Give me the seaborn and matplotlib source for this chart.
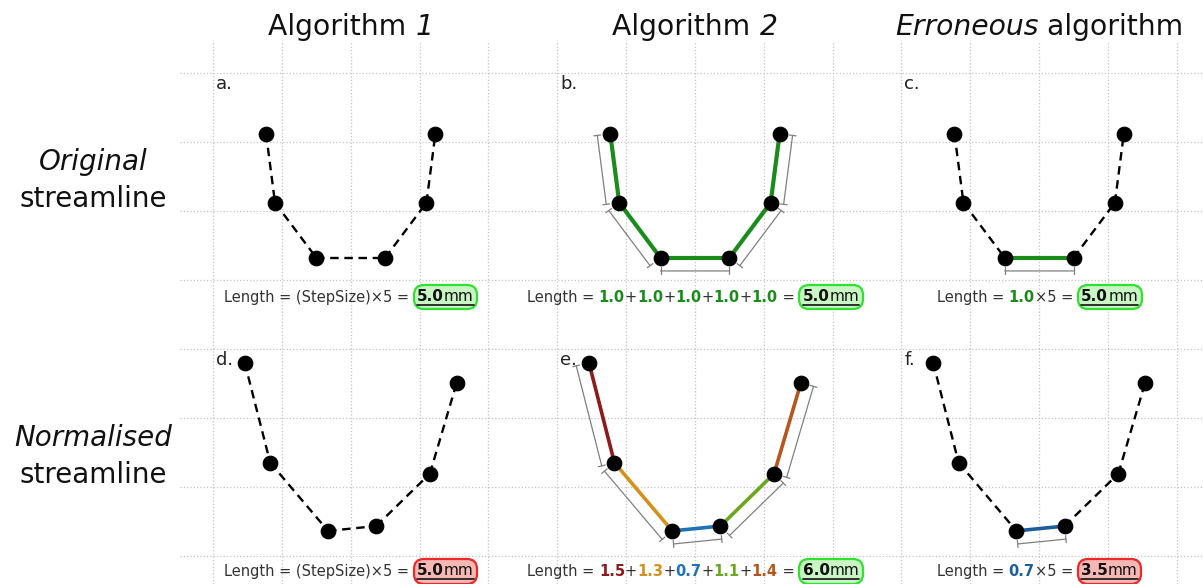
import numpy as np
import matplotlib
matplotlib.use("Agg")
import matplotlib.pyplot as plt
import seaborn as sns
from matplotlib.lines import Line2D
from matplotlib.offsetbox import (TextArea, HPacker, VPacker, PaddedBox,
                                  DrawingArea, AnnotationBbox)

# streamline points in mm, x relative to panel centre, y above the row's base line
orig_x = [-1.23, -1.10, -0.50, 0.50, 1.10, 1.23]
orig_y = [2.12, 1.12, 0.32, 0.32, 1.12, 2.12]
norm_x = [-1.54, -1.17, -0.33, 0.37, 1.15, 1.54]
norm_y = [2.80, 1.35, 0.36, 0.43, 1.19, 2.51]

# (text, italic) pieces for each column title
col_titles = [[("Algorithm ", False), ("1", True)],
              [("Algorithm ", False), ("2", True)],
              [("Erroneous", True), (" algorithm", False)]]
row_names = [("Original", "streamline"), ("Normalised", "streamline")]
panel_letters = [["a.", "b.", "c."], ["d.", "e.", "f."]]

orig_steps = ["1.0", "1.0", "1.0", "1.0", "1.0"]
norm_steps = ["1.5", "1.3", "0.7", "1.1", "1.4"]
green = "#1b8c1b"
orig_colors = [green] * 5
norm_colors = ["#8e1b1b", "#d4921c", "#1f72b8", "#6aa820", "#b5561c"]
err_norm_color = "#1c5d9c"

totals = {"a": "5.0", "b": "5.0", "c": "5.0", "d": "5.0", "e": "6.0", "f": "3.5"}
correct = {"a": True, "b": True, "c": True, "d": False, "e": True, "f": False}

col_centres = [2, 7, 12]
row_bases = [-3, -7]
label_y = [-3.25, -7.23]

sns.set_style("whitegrid", {"grid.linestyle": ":", "grid.color": "#c4c4c4"})
plt.rcParams["font.family"] = ["DejaVu Sans"]

fig = plt.figure(figsize=(12.03, 5.84), dpi=100)
renderer = fig.canvas.get_renderer()
ax = fig.add_axes([180 / 1203, 0, 1 - 180 / 1203, 542 / 584])
ax.set_xlim(-0.48, 14.38)
ax.set_ylim(-7.41, 0.45)
ax.set_xticks(range(0, 15))
ax.set_yticks(range(-7, 1))
ax.set_xticklabels([])
ax.set_yticklabels([])
ax.tick_params(length=0)
ax.grid(True, lw=0.9)
for s in ax.spines.values():
    s.set_visible(False)

TXT = "#333333"
FS = 10.5


def dim_line(p0, p1, off=0.19):
    d = np.subtract(p1, p0)
    n = np.array([d[1], -d[0]]) / np.hypot(*d)
    a = np.array(p0) + n * off
    b = np.array(p1) + n * off
    ax.annotate("", xy=b, xytext=a,
                arrowprops=dict(arrowstyle="|-|,widthA=0.25,widthB=0.25",
                                color="#808080", lw=0.9, shrinkA=0, shrinkB=0))


def length_label(x, y, pieces, result, ok):
    areas = []
    for s, c, bold in pieces:
        areas.append(TextArea(s, textprops=dict(color=c, fontsize=FS,
                                                fontweight="bold" if bold else "normal")))
    fc, ec = ("#c8f5c3", "#2fe22f") if ok else ("#f6b8b5", "#ec2828")
    res = HPacker(children=[TextArea(result, textprops=dict(color="#111111", fontsize=FS + 0.5,
                                                            fontweight="bold")),
                            TextArea("mm", textprops=dict(color="#111111", fontsize=FS + 0.5))],
                  pad=0, sep=0, align="baseline")
    res.set_figure(fig)
    w = res.get_bbox(renderer).width * 72 / fig.dpi
    ul = DrawingArea(w, 1.6, 0, 0)
    ul.add_artist(Line2D([0, w], [0.8, 0.8], color="#222222", lw=1.3))
    inner = VPacker(children=[res, ul], pad=0, sep=0, align="center")
    boxed = PaddedBox(inner, pad=2.6, draw_frame=True,
                      patch_attrs=dict(boxstyle="round,pad=0,rounding_size=10",
                                       facecolor=fc, edgecolor=ec, linewidth=1.6))
    areas.append(boxed)
    box = HPacker(children=areas, pad=0, sep=0, align="center")
    ab = AnnotationBbox(box, (x, y), frameon=False, box_alignment=(0.5, 0.5), pad=0)
    ax.add_artist(ab)


for r, (px, py, steps, colors) in enumerate([(orig_x, orig_y, orig_steps, orig_colors),
                                             (norm_x, norm_y, norm_steps, norm_colors)]):
    for c, cx in enumerate(col_centres):
        key = panel_letters[r][c][0]
        xs = np.array(px) + cx
        ys = np.array(py) + row_bases[r]
        # which segments are measured in this panel
        if c == 0:
            solid = {}
        elif c == 1:
            solid = {i: colors[i] for i in range(5)}
        else:
            solid = {2: green if r == 0 else err_norm_color}
        for i in range(5):
            if i in solid:
                ax.plot(xs[i:i + 2], ys[i:i + 2], color=solid[i], lw=3 if r == 0 else 2.6,
                        solid_capstyle="butt", zorder=3)
                dim_line((xs[i], ys[i]), (xs[i + 1], ys[i + 1]))
            else:
                ax.plot(xs[i:i + 2], ys[i:i + 2], color="black", lw=1.7,
                        dashes=(3.6, 2.4), zorder=3)
        sns.scatterplot(x=xs, y=ys, color="black", s=110, edgecolor="black", zorder=5,
                        ax=ax, legend=False)

        ax.text(cx - 1.96, row_bases[r] + 2.84, panel_letters[r][c], fontsize=13,
                color="#222222", ha="left", va="center")

        # length annotation
        if c == 0:
            pieces = [("Length = (StepSize)×5 = ", TXT, False)]
        elif c == 1:
            pieces = [("Length = ", TXT, False)]
            for i, s in enumerate(steps):
                if i:
                    pieces.append(("+", TXT, False))
                pieces.append((s, colors[i], True))
            pieces.append((" = ", TXT, False))
        else:
            pieces = [("Length = ", TXT, False),
                      (steps[2], solid[2], True),
                      ("×5 = ", TXT, False)]
        length_label(cx, label_y[r], pieces, totals[key], correct[key])

for c, cx in enumerate(col_centres):
    parts = [TextArea(s, textprops=dict(fontsize=20.3, color="#111111",
                                        fontstyle="italic" if it else "normal"))
             for s, it in col_titles[c]]
    title = HPacker(children=parts, pad=0, sep=0, align="baseline")
    ax.add_artist(AnnotationBbox(title, (cx, 0.665), frameon=False,
                                 box_alignment=(0.5, 0.5), pad=0,
                                 annotation_clip=False))

for r, (l1, l2) in enumerate(row_names):
    base = row_bases[r]
    ax.text(-1.74, base + 1.59, l1, fontsize=20, style="italic", ha="center",
            va="baseline", color="#111111", clip_on=False)
    ax.text(-1.74, base + 1.06, l2, fontsize=20, ha="center", va="baseline",
            color="#111111", clip_on=False)

fig.savefig("out.png", dpi=100)
